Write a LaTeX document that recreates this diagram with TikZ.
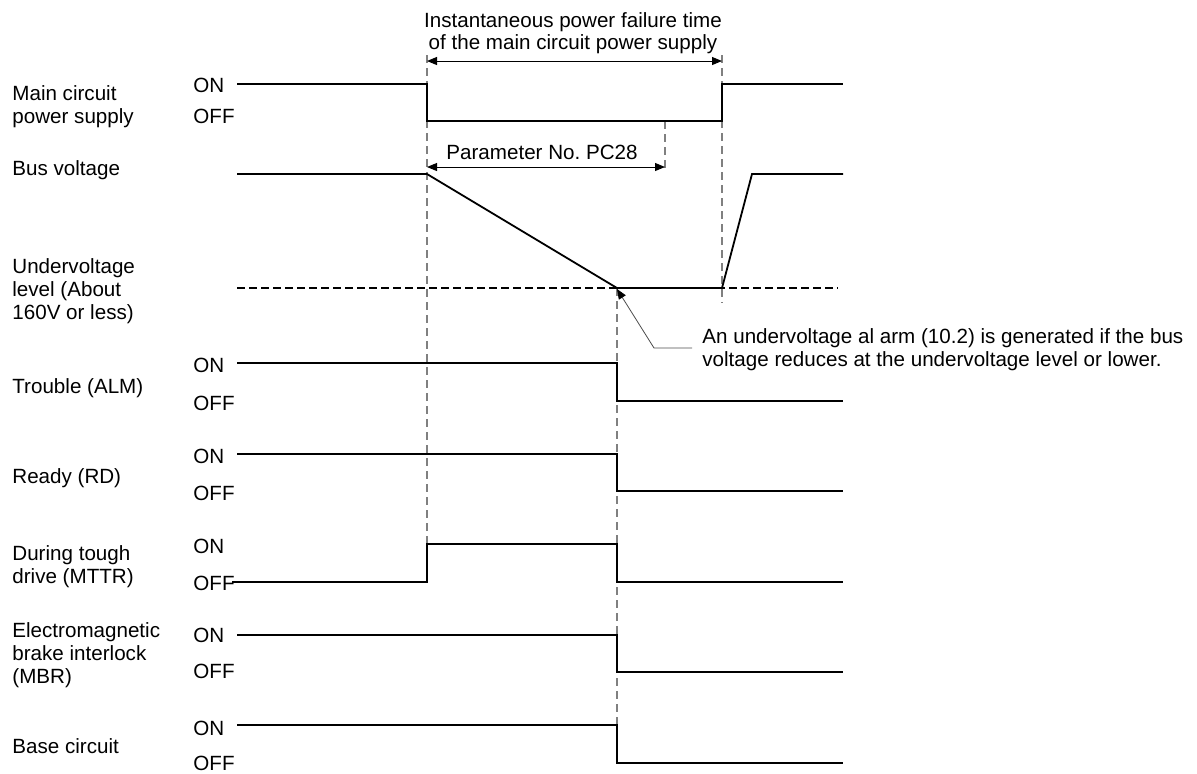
\documentclass[tikz,border=0pt]{standalone}
\usepackage{fontspec}
\setmainfont{Liberation Sans}
\usetikzlibrary{arrows.meta}

\begin{document}
\begin{tikzpicture}[x=0.5pt, y=-0.5pt,
  sig/.style={line width=0.9pt, line join=miter},
  guide/.style={gray, line width=0.7pt, dash pattern=on 4pt off 2.5pt},
  level/.style={line width=0.6pt, dash pattern=on 4pt off 2pt},
  dim/.style={{Triangle[length=5pt, width=4pt]}-{Triangle[length=5pt, width=4pt]}, line width=0.5pt},
  leader/.style={-{Triangle[length=5pt, width=4pt, black]}, line width=0.4pt, black!70},
  lbl/.style={anchor=base west, align=left, inner sep=0pt, font=\fontsize{10.3}{11.5}\selectfont},
  head/.style={anchor=base, align=center, inner sep=0pt, font=\fontsize{10.3}{11}\selectfont}
]
\useasboundingbox (0,0) rectangle (1197,773);

% Signal names (base = last line)
\node[lbl] (n1) at (12,123) {Main circuit\\power supply};
\node[lbl] (n2) at (12,175) {Bus voltage};
\node[lbl] (n3) at (12,319) {Undervoltage\\level (About\\160V or less)};
\node[lbl] (n4) at (12,393) {Trouble (ALM)};
\node[lbl] (n5) at (12,483) {Ready (RD)};
\node[lbl] (n6) at (12,583) {During tough\\drive (MTTR)};
\node[lbl] (n7) at (12,683) {Electromagnetic\\brake interlock\\(MBR)};
\node[lbl] (n8) at (12,753) {Base circuit};

% ON / OFF states
\node[lbl] (on1)  at (193,92)  {ON};
\node[lbl] (off1) at (193,123) {OFF};
\node[lbl] (on4)  at (193,372) {ON};
\node[lbl] (off4) at (193,410) {OFF};
\node[lbl] (on5)  at (193,463) {ON};
\node[lbl] (off5) at (193,500) {OFF};
\node[lbl] (on6)  at (193,553) {ON};
\node[lbl] (off6) at (193,590) {OFF};
\node[lbl] (on7)  at (193,642) {ON};
\node[lbl] (off7) at (193,678) {OFF};
\node[lbl] (on8)  at (193,735) {ON};
\node[lbl] (off8) at (193,770) {OFF};

% Guide lines
\draw[guide] (427,55) -- (427,544);
\draw[guide] (722,55) -- (722,303);
\draw[guide] (665,121) -- (665,171);
\draw[guide] (617,288) -- (617,725);
\draw[level] (237,288) -- (838,288);

% Main circuit power supply
\draw[sig] (237,84) -- (427,84) -- (427,121) -- (722,121) -- (722,84) -- (843,84);

% Bus voltage
\draw[sig] (237,174) -- (427,174) -- (617,288) -- (722,288) -- (752,174) -- (843,174);

% Trouble, Ready
\draw[sig] (237,363) -- (617,363) -- (617,401) -- (843,401);
\draw[sig] (237,454) -- (617,454) -- (617,491) -- (843,491);

% During tough drive
\draw[sig] (232,582) -- (427,582) -- (427,544) -- (617,544) -- (617,582) -- (843,582);

% Brake interlock, Base circuit
\draw[sig] (237,635) -- (617,635) -- (617,672) -- (843,672);
\draw[sig] (237,725) -- (617,725) -- (617,763) -- (843,763);

% Time spans
\node[head] (fail) at (573,49) {Instantaneous power failure time\\of the main circuit power supply};
\draw[dim] (427,61) -- (722,61);
\node[head] (pc28) at (542,159) {Parameter No.\ PC28};
\draw[dim] (427,167) -- (665,167);

% Undervoltage alarm note
\node[lbl] (alarm) at (702,366) {An undervoltage al arm (10.2) is generated if the bus\\voltage reduces at the undervoltage level or lower.};
\draw[leader] (692,348) -- (654,348) -- (617,289);
\end{tikzpicture}
\end{document}
